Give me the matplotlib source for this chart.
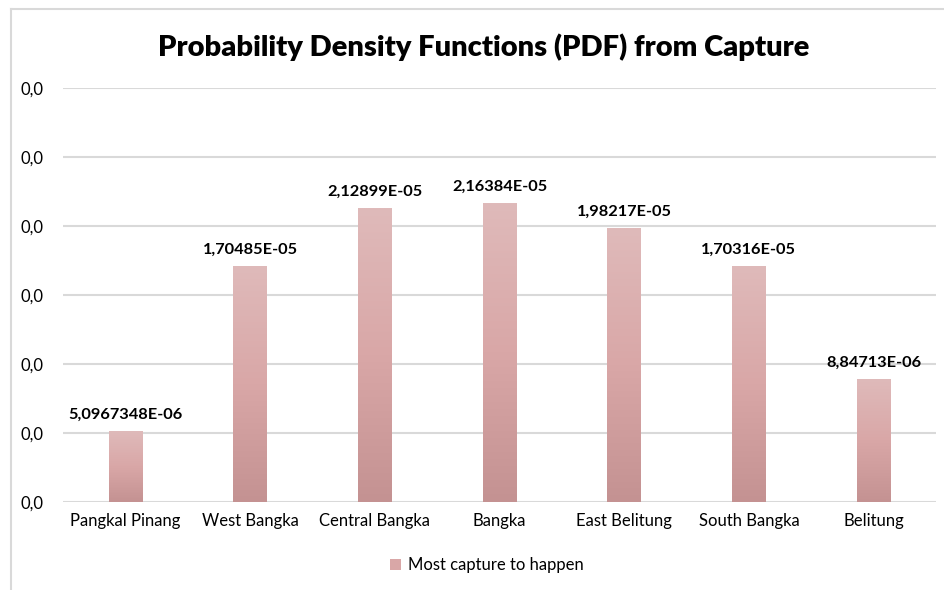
import numpy as np
import matplotlib.pyplot as plt
from matplotlib.lines import Line2D
from matplotlib.patches import Patch
from matplotlib.colors import LinearSegmentedColormap

plt.rcParams['font.family'] = ['Lato', 'DejaVu Sans']

# Data
regions = ["Pangkal Pinang", "West Bangka", "Central Bangka", "Bangka",
           "East Belitung", "South Bangka", "Belitung"]
value_labels = ["5,0967348E-06", "1,70485E-05", "2,12899E-05", "2,16384E-05",
                "1,98217E-05", "1,70316E-05", "8,84713E-06"]
values = [float(s.replace(",", ".")) for s in value_labels]
y_ticks = [0, 5e-6, 1e-5, 1.5e-5, 2e-5, 2.5e-5, 3e-5]

grid_col = "#D9D9D9"
bar_cmap = LinearSegmentedColormap.from_list("pinkfade", ["#C49292", "#D9A7A7", "#DFBABA"])

fig = plt.figure(figsize=(9.45, 5.9), dpi=100)
ax = fig.add_axes([0.0667, 0.1492, 0.9238, 0.7016])

x = np.arange(len(regions))
width = 0.27
grad = np.linspace(0, 1, 256).reshape(-1, 1)
for xi, v, lab in zip(x, values, value_labels):
    ax.imshow(grad, extent=[xi - width / 2, xi + width / 2, 0, v], origin="lower",
              cmap=bar_cmap, aspect="auto", zorder=3)
    ax.annotate(lab, (xi, v), xytext=(0, 7), textcoords="offset points",
                ha="center", va="bottom", fontsize=11.8, fontweight="bold", color="#000000")

ax.set_xlim(-0.5, len(regions) - 0.5)
ax.set_ylim(0, 3e-5)
ax.set_yticks(y_ticks)
ax.set_yticklabels(["0,0"] * len(y_ticks))
ax.set_xticks(x)
ax.set_xticklabels(regions)
ax.tick_params(axis="both", length=0, labelsize=12, colors="#000000")
ax.tick_params(axis="y", pad=14)
ax.tick_params(axis="x", pad=8)
ax.grid(axis="y", color=grid_col, lw=1.5, zorder=0)
ax.set_axisbelow(True)
for s in ax.spines.values():
    s.set_visible(False)

fig.text(0.512, 0.92, "Probability Density Functions (PDF) from Capture",
         ha="center", va="center", fontsize=21, fontweight="heavy")

handle = Patch(facecolor="#D9A7A7", edgecolor="none")
fig.legend([handle], ["Most capture to happen"], loc="center", bbox_to_anchor=(0.515, 0.042),
           frameon=False, fontsize=12, handlelength=0.7, handleheight=0.7, handletextpad=0.4)

# chart frame
fig.add_artist(Line2D([10.5 / 945, 1.0], [1 - 8.5 / 590] * 2, transform=fig.transFigure,
                      color=grid_col, lw=1.5))
fig.add_artist(Line2D([10.5 / 945] * 2, [0, 1 - 8.5 / 590], transform=fig.transFigure,
                      color=grid_col, lw=1.5))

fig.savefig("out.png", dpi=100)
